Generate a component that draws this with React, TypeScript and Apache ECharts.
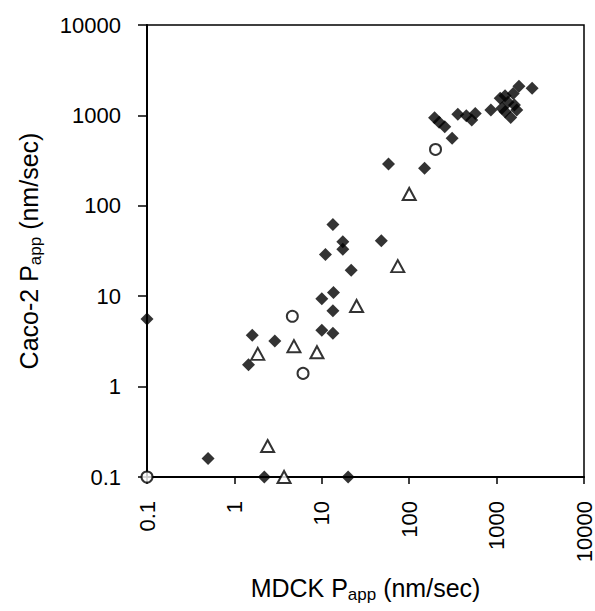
import React, { useEffect, useRef } from "react";
import * as echarts from "echarts";

const tickLabels = ["0.1", "1", "10", "100", "1000", "10000"];

const diamondX = [0.1, 0.5, 2.2, 20, 1.45, 1.6, 2.9, 10, 13.4, 13.4, 10, 13.6, 11, 13.4, 17.4, 17.4, 21.7, 48, 58, 150, 310, 195, 220, 255, 360, 450, 570, 520, 860, 1100, 1250, 1350, 1550, 1800, 2550, 1250, 1450, 1700, 1600, 1150];
const diamondY = [5.6, 0.16, 0.1, 0.1, 1.75, 3.7, 3.2, 4.2, 3.9, 6.9, 9.4, 11, 29, 62, 40, 33, 19.4, 41, 290, 260, 560, 940, 840, 750, 1030, 990, 1050, 890, 1150, 1550, 1650, 1400, 1750, 2100, 2000, 1100, 950, 1150, 1300, 1200];

const triangleX = [1.85, 4.8, 8.8, 25, 74, 100, 2.4, 3.7];
const triangleY = [2.3, 2.8, 2.4, 7.8, 21.5, 135, 0.22, 0.1];

const circleX = [0.1, 4.6, 6.1, 200];
const circleY = [0.1, 6, 1.4, 420];

const FONT = "'Liberation Sans', Arial, sans-serif";

const zip = (xs: number[], ys: number[]) => xs.map((x, i) => [x, ys[i]]);

const labelFormatter = (v: number) => {
  const idx = Math.round(Math.log10(v)) + 1;
  return tickLabels[idx] ?? "";
};

export default function App() {
  const ref = useRef<HTMLDivElement>(null);
  useEffect(() => {
    if (!ref.current) return;
    const chart = echarts.init(ref.current, null, { renderer: "svg" });
    const rich = {
      a: { fontSize: 25, fontFamily: FONT, color: "#000", lineHeight: 30 },
      s: { fontSize: 17, fontFamily: FONT, color: "#000", lineHeight: 17, padding: [12, 0, 0, 0], verticalAlign: "bottom" },
    };
    chart.setOption({
      animation: false,
      backgroundColor: "#fff",
      grid: {
        left: 147,
        right: 10,
        top: 25,
        bottom: 134,
        containLabel: false,
        show: true,
        borderColor: "#000",
        borderWidth: 1.5,
      },
      xAxis: {
        type: "log",
        logBase: 10,
        min: 0.1,
        max: 10000,
        name: "{a|MDCK P}{s|app}{a| (nm/sec)}",
        nameLocation: "middle",
        nameGap: 96,
        nameTextStyle: { rich },
        axisLine: { show: true, lineStyle: { color: "#000", width: 2 } },
        axisTick: { show: true, inside: false, length: 7, lineStyle: { color: "#000", width: 1.5 } },
        minorTick: { show: false },
        splitLine: { show: false },
        axisLabel: {
          rotate: 90,
          margin: 24,
          fontSize: 22,
          fontFamily: FONT,
          color: "#000",
          formatter: labelFormatter,
        },
      },
      yAxis: {
        type: "log",
        logBase: 10,
        min: 0.1,
        max: 10000,
        name: "{a|Caco-2 P}{s|app}{a| (nm/sec)}",
        nameLocation: "middle",
        nameRotate: 90,
        nameGap: 103,
        nameTextStyle: { rich },
        axisLine: { show: true, lineStyle: { color: "#000", width: 2 } },
        axisTick: { show: true, inside: false, length: 9, lineStyle: { color: "#000", width: 1.5 } },
        minorTick: { show: false },
        splitLine: { show: false },
        axisLabel: {
          margin: 26,
          fontSize: 22,
          fontFamily: FONT,
          color: "#000",
          formatter: labelFormatter,
        },
      },
      series: [
        {
          type: "scatter",
          name: "diamond",
          symbol: "diamond",
          symbolSize: [13, 13],
          clip: false,
          itemStyle: { color: "#000" },
          data: zip(diamondX, diamondY),
          z: 3,
        },
        {
          type: "scatter",
          name: "triangle",
          symbol: "triangle",
          symbolSize: [13, 12],
          clip: false,
          itemStyle: { color: "#fff", borderColor: "#000", borderWidth: 2 },
          data: zip(triangleX, triangleY),
          z: 4,
        },
        {
          type: "scatter",
          name: "circle",
          symbol: "circle",
          symbolSize: 11,
          clip: false,
          itemStyle: { color: "#fff", borderColor: "#000", borderWidth: 2 },
          data: zip(circleX, circleY),
          z: 5,
        },
      ],
    });
    return () => chart.dispose();
  }, []);
  return (
    <div
      ref={ref}
      style={{ position: "absolute", left: 0, top: 0, width: 595, height: 611, background: "#fff" }}
    />
  );
}
